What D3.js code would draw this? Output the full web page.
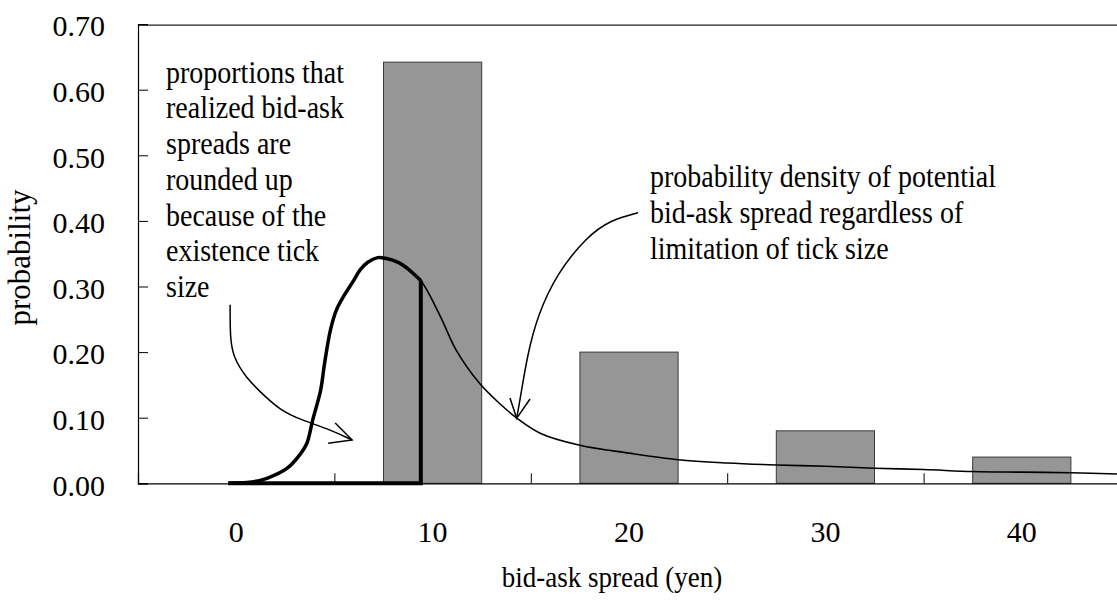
<!DOCTYPE html>
<html>
<head>
<meta charset="utf-8">
<script src="https://cdn.jsdelivr.net/npm/d3@7"></script>
<style>
  body { margin: 0; background: #fff; }
  text { font-family: 'Liberation Serif', 'Times New Roman', serif; fill: #000; }
</style>
</head>
<body>
<div id="viz"></div>
<script>
// bars: realized bid-ask spread proportions
const categories = [0, 10, 20, 30, 40];
const barValues = [0, 0.642, 0.20, 0.08, 0.04];

// potential spread density
const densityX = [-0.4, 0.9, 1.6, 2.6, 3.3, 3.6, 3.9, 4.3, 4.5, 4.8, 5.1, 5.45, 6.0, 6.3, 6.7, 7.2, 7.6, 8.3, 8.7, 9.4,
                  10.4, 11.2, 12.4, 13.4, 14.3, 15.5, 17.5, 20, 22.5, 25, 27.5, 30, 32.5, 35, 37.5, 40, 42.5, 45];
const densityY = [0, 0.0025, 0.008, 0.023, 0.046, 0.061, 0.097, 0.142, 0.183, 0.234, 0.264, 0.284, 0.31, 0.325, 0.337, 0.344, 0.343, 0.336, 0.328, 0.309,
                  0.254, 0.203, 0.152, 0.122, 0.099, 0.076, 0.058, 0.046, 0.036, 0.031, 0.028, 0.026, 0.023, 0.021, 0.018, 0.017, 0.016, 0.014];
const cutoff = 9.4;

const yTicks = [0, 0.1, 0.2, 0.3, 0.4, 0.5, 0.6, 0.7];
const xTickMarks = [5, 15, 25, 35];

const leftNote = ["proportions that", "realized bid-ask", "spreads are", "rounded up", "because of the", "existence tick", "size"];
const rightNote = ["probability density of potential", "bid-ask spread regardless of", "limitation of tick size"];

// arrows in data units [x, y]
const leftArrow = [[-0.31, 0.272], [-0.31, 0.221], [-0.15, 0.193], [0.46, 0.162], [1.48, 0.132], [2.24, 0.112], [3.26, 0.097], [4.78, 0.082], [5.9, 0.066]];
const leftHead = [[5.04, 0.092], [5.9, 0.066], [4.68, 0.061]];
const rightArrow = [[20.46, 0.4125], [19.03, 0.401], [17.86, 0.376], [16.34, 0.3206], [15.32, 0.254], [14.81, 0.193], [14.45, 0.127], [14.28, 0.099]];
const rightHead = [[13.94, 0.130], [14.28, 0.099], [14.96, 0.1285]];

const dims = {
    width: 1117,
    height: 604,
    left: 138,
    right: 1120,
    top: 24.1,
    bottom: 483.3
};
const tickFont = 30;
const noteFont = 28;
const stretch = 1.1;   // reference glyphs are a bit taller than Times

const svg = d3.select('#viz').append('svg')
    .attr('width', dims.width)
    .attr('height', dims.height);

const x = d3.scaleLinear().domain([-5, 45]).range([dims.left, dims.right]);
const y = d3.scaleLinear().domain([0, 0.7]).range([dims.bottom, dims.top]);

// bars
svg.append('g')
    .selectAll('rect')
    .data(categories.map((c, i) => ({ c, v: barValues[i] })).filter(d => d.v > 0))
    .enter().append('rect')
        .attr('x', d => x(d.c - 2.5))
        .attr('y', d => y(d.v))
        .attr('width', x(5) - x(0))
        .attr('height', d => y(0) - y(d.v))
        .attr('fill', '#969696')
        .attr('stroke', '#3a3a3a')
        .attr('stroke-width', 1);

// frame
svg.append('line')
    .attr('x1', dims.left).attr('x2', dims.right)
    .attr('y1', dims.top + 1).attr('y2', dims.top + 1)
    .attr('stroke', '#222').attr('stroke-width', 1.3);

// y axis
const yAxis = svg.append('g')
    .attr('transform', `translate(${dims.left},0)`)
    .call(d3.axisRight(y).tickValues(yTicks).tickSize(10).tickFormat(''));
yAxis.select('.domain').attr('stroke', '#000').attr('stroke-width', 1.2);

svg.append('g')
    .selectAll('text')
    .data(yTicks)
    .enter().append('text')
        .attr('x', 105)
        .attr('y', d => y(d))
        .attr('dy', '0.41em')
        .attr('text-anchor', 'end')
        .style('font-size', tickFont + 'px')
        .text(d => d.toFixed(2));

// x axis
const xAxis = svg.append('g')
    .attr('transform', `translate(0,${dims.bottom})`)
    .call(d3.axisTop(x).tickValues(xTickMarks).tickSize(10).tickFormat(''));
xAxis.select('.domain').attr('stroke', '#000').attr('stroke-width', 1.2);

svg.append('g')
    .selectAll('text')
    .data(categories)
    .enter().append('text')
        .attr('x', d => x(d))
        .attr('y', 541.7)
        .attr('text-anchor', 'middle')
        .style('font-size', tickFont + 'px')
        .text(d => d);

// density curve (thin)
const line = d3.line()
    .x(d => x(d[0]))
    .y(d => y(d[1]))
    .curve(d3.curveCatmullRom);

const density = densityX.map((v, i) => [v, densityY[i]]);

svg.append('path')
    .datum(density)
    .attr('d', line)
    .attr('fill', 'none')
    .attr('stroke', '#000')
    .attr('stroke-width', 1.6);

// thick rounded-up part
const head = density.filter(d => d[0] <= cutoff);
svg.append('path')
    .datum(head)
    .attr('d', line)
    .attr('fill', 'none')
    .attr('stroke', '#000')
    .attr('stroke-width', 3.5);

svg.append('path')
    .attr('d', d3.line()([[x(cutoff), y(densityY[densityX.indexOf(cutoff)])], [x(cutoff), y(0)], [x(densityX[0]), y(0)]]))
    .attr('fill', 'none')
    .attr('stroke', '#000')
    .attr('stroke-width', 4);

// arrows
const arrowLine = d3.line()
    .x(d => x(d[0]))
    .y(d => y(d[1]))
    .curve(d3.curveBasis);
const straight = d3.line().x(d => x(d[0])).y(d => y(d[1]));

[[leftArrow, leftHead], [rightArrow, rightHead]].forEach(([body, tip]) => {
    svg.append('path')
        .datum(body)
        .attr('d', arrowLine)
        .attr('fill', 'none')
        .attr('stroke', '#000')
        .attr('stroke-width', 1.5);
    svg.append('path')
        .datum(tip)
        .attr('d', straight)
        .attr('fill', 'none')
        .attr('stroke', '#000')
        .attr('stroke-width', 1.5);
});

// notes (stretched a little vertically around their baseline)
function note(lines, x0, y0, step) {
    svg.append('g')
        .selectAll('text')
        .data(lines)
        .enter().append('text')
            .attr('transform', (d, i) => `translate(${x0},${y0 + i * step}) scale(1,${stretch})`)
            .style('font-size', noteFont + 'px')
            .text(d => d);
}
note(leftNote, 166, 82.7, 35.7);
note(rightNote, 650, 186.5, 36);

// axis titles
svg.append('text')
    .attr('transform', `translate(612,587) scale(1,${stretch})`)
    .attr('text-anchor', 'middle')
    .style('font-size', '27px')
    .text('bid-ask spread (yen)');

svg.append('text')
    .attr('transform', 'translate(30,257.5) rotate(-90)')
    .attr('text-anchor', 'middle')
    .style('font-size', '31px')
    .text('probability');
</script>
</body>
</html>
